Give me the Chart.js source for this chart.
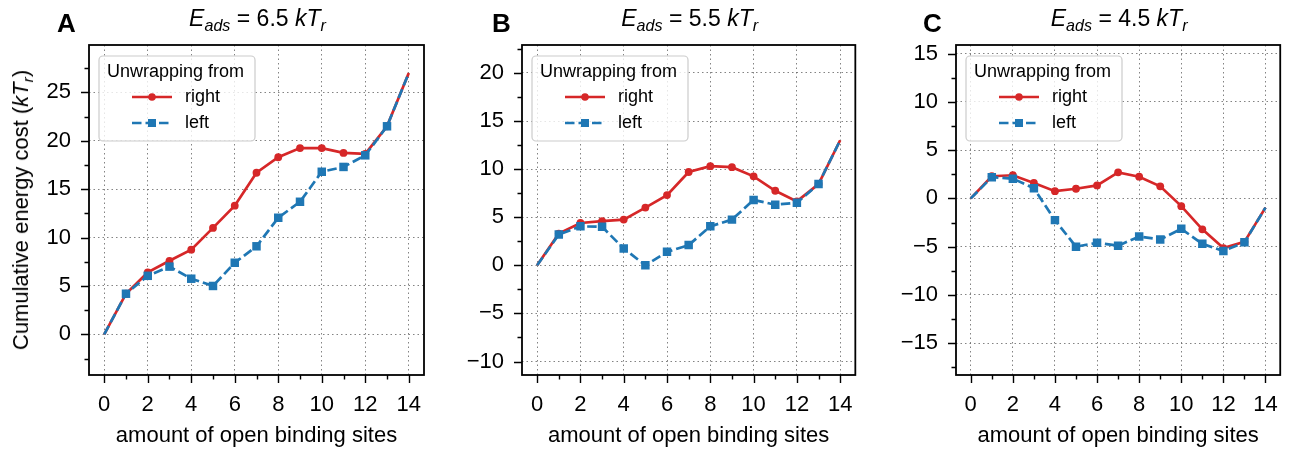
<!DOCTYPE html>
<html>
<head>
<meta charset="utf-8">
<script src="https://cdn.jsdelivr.net/npm/chart.js@4.4.0/dist/chart.umd.min.js"></script>
<style>
  body { margin: 0; width: 1295px; height: 450px; background: #fff; position: relative; overflow: hidden;
         font-family: 'Liberation Sans', Arial, sans-serif; color: #000; }
  canvas { position: absolute; top: 0; }
  .ttl { position: absolute; top: 7px; font-size: 23px; line-height: 23px; white-space: nowrap; transform: translateX(-50%); z-index: 2; }
  .letter { position: absolute; top: 10px; font-size: 26px; line-height: 26px; font-weight: bold; z-index: 2; }
  .ylab { position: absolute; left: 21px; top: 210px; font-size: 22px; line-height: 22px; white-space: nowrap;
          transform: translate(-50%, -50%) rotate(-90deg); z-index: 2; }
  sub { font-size: 70%; vertical-align: -0.3em; line-height: 0; }
</style>
</head>
<body>
<canvas id="cA" width="440" height="450" style="left:0px"></canvas>
<canvas id="cB" width="430" height="450" style="left:440px"></canvas>
<canvas id="cC" width="425" height="450" style="left:870px"></canvas>

<div class="letter" style="left:57px">A</div>
<div class="letter" style="left:492px">B</div>
<div class="letter" style="left:923px">C</div>
<div class="ttl" id="tA"></div>
<div class="ttl" id="tB"></div>
<div class="ttl" id="tC"></div>
<div class="ylab">Cumulative energy cost (<i>kT</i><sub><i>r</i></sub>)</div>

<script>
/* ── data ─────────────────────────────────────────────── */
const sites  = [0, 1, 2, 3, 4, 5, 6, 7, 8, 9, 10, 11, 12, 13, 14];
const energies = ['6.5', '5.5', '4.5'];

const rightA = [0, 4.2, 6.4, 7.6, 8.75, 11.0, 13.3, 16.7, 18.3, 19.25, 19.25, 18.75, 18.65, 21.5, 27.0];
const leftA  = [0, 4.2, 6.05, 7.0, 5.75, 5.0, 7.4, 9.1, 12.05, 13.7, 16.8, 17.3, 18.5, 21.5, 27.0];
const rightB = [0, 3.3, 4.4, 4.6, 4.75, 6.0, 7.3, 9.7, 10.3, 10.2, 9.25, 7.75, 6.65, 8.45, 13.0];
const leftB  = [0, 3.2, 4.05, 4.0, 1.75, 0.0, 1.4, 2.1, 4.05, 4.75, 6.8, 6.3, 6.5, 8.45, 13.0];
const rightC = [0, 2.3, 2.4, 1.6, 0.75, 1.0, 1.35, 2.7, 2.25, 1.25, -0.8, -3.2, -5.15, -4.5, -0.95];
const leftC  = [0, 2.2, 2.05, 1.05, -2.25, -5.0, -4.6, -4.9, -3.95, -4.25, -3.15, -4.7, -5.45, -4.55, -0.95];

const xMajor = [0, 2, 4, 6, 8, 10, 12, 14];
const xMinor = [1, 3, 5, 7, 9, 11, 13];

const yMajorA = [0, 5, 10, 15, 20, 25];
const yMinorA = [-2.5, 2.5, 7.5, 12.5, 17.5, 22.5, 27.5];
const yMajorB = [-10, -5, 0, 5, 10, 15, 20];
const yMinorB = [-7.5, -2.5, 2.5, 7.5, 12.5, 17.5, 22.5];
const yMajorC = [-15, -10, -5, 0, 5, 10, 15];
const yMinorC = [-17.5, -12.5, -7.5, -2.5, 2.5, 7.5, 12.5];

const yRangeA = [-4.2, 29.9];
const yRangeB = [-11.4, 22.9];
const yRangeC = [-18.3, 15.9];

const RED  = '#d62728';
const BLUE = '#1f77b4';
const GRID = 'rgba(90,90,90,0.75)';
const FONT = "'Liberation Sans', Arial, sans-serif";

Chart.defaults.font.family = FONT;
Chart.defaults.color = '#000';

const fmt = v => v < 0 ? '\u2212' + Math.abs(v) : String(v);

// no marker on the first and last point of each curve
const innerOnly = r => ctx => (ctx.dataIndex === 0 || ctx.dataIndex === sites.length - 1) ? 0 : r;

/* ── frame plugin: spines, outward tick marks, legend ─── */
const framePlugin = {
  id: 'frame',
  afterDraw(chart, args, o) {
    const { ctx, chartArea: a, scales: { x, y } } = chart;
    ctx.save();
    ctx.strokeStyle = '#000';
    ctx.lineWidth = 1.4;
    ctx.setLineDash([]);
    ctx.beginPath();
    const xt = (v, len) => { const p = Math.round(x.getPixelForValue(v)) + 0.5; ctx.moveTo(p, a.bottom); ctx.lineTo(p, a.bottom + len); };
    const yt = (v, len) => { const p = Math.round(y.getPixelForValue(v)) + 0.5; ctx.moveTo(a.left, p); ctx.lineTo(a.left - len, p); };
    xMajor.forEach(v => xt(v, 8));
    xMinor.forEach(v => xt(v, 4.5));
    o.yMajor.forEach(v => yt(v, 8));
    o.yMinor.forEach(v => yt(v, 4.5));
    ctx.stroke();

    ctx.lineWidth = 1.8;
    ctx.strokeRect(a.left, a.top, a.right - a.left, a.bottom - a.top);

    // legend box
    const lx = a.left + 10, ly = a.top + 11, lw = 156, lh = 85;
    ctx.beginPath();
    ctx.roundRect(lx, ly, lw, lh, 4);
    ctx.fillStyle = 'rgba(255,255,255,0.8)';
    ctx.fill();
    ctx.strokeStyle = '#cccccc';
    ctx.lineWidth = 1.2;
    ctx.stroke();

    ctx.fillStyle = '#000';
    ctx.font = '18px ' + FONT;
    ctx.textBaseline = 'middle';
    ctx.textAlign = 'left';
    ctx.fillText('Unwrapping from', a.left + 18, a.top + 27);

    const ds = chart.data.datasets;
    const rows = [ds[1], ds[0]];   // right first, then left
    rows.forEach((d, i) => {
      const yy = a.top + 52 + i * 26;
      ctx.strokeStyle = d.borderColor;
      ctx.lineWidth = d.borderWidth;
      ctx.setLineDash(d.borderDash || []);
      ctx.beginPath();
      ctx.moveTo(a.left + 43, yy);
      ctx.lineTo(a.left + 83, yy);
      ctx.stroke();
      ctx.setLineDash([]);
      ctx.fillStyle = d.borderColor;
      if (d.pointStyle === 'rect') {
        ctx.fillRect(a.left + 63 - 4, yy - 4, 8, 8);
      } else {
        ctx.beginPath();
        ctx.arc(a.left + 63, yy, 3.8, 0, Math.PI * 2);
        ctx.fill();
      }
      ctx.fillStyle = '#000';
      ctx.fillText(d.label, a.left + 96, yy);
    });
    ctx.restore();
  }
};

/* ── one panel ────────────────────────────────────────── */
function makePanel(id, right, left, yRange, yMajor, yMinor, yWidth, padRight) {
  const pts = arr => sites.map((s, i) => ({ x: s, y: arr[i] }));
  return new Chart(document.getElementById(id).getContext('2d'), {
    type: 'line',
    data: {
      datasets: [
        {
          label: 'left', data: pts(left), order: 1,
          borderColor: BLUE, backgroundColor: BLUE, borderWidth: 2.7, borderDash: [9.5, 4],
          pointStyle: 'rect', pointRadius: innerOnly(6), pointBorderWidth: 0, pointBackgroundColor: BLUE,
          tension: 0, fill: false
        },
        {
          label: 'right', data: pts(right), order: 2,
          borderColor: RED, backgroundColor: RED, borderWidth: 2.7,
          pointStyle: 'circle', pointRadius: innerOnly(3.9), pointBorderWidth: 0, pointBackgroundColor: RED,
          tension: 0, fill: false
        }
      ]
    },
    options: {
      responsive: false,
      animation: false,
      events: [],
      layout: { padding: { top: 45, right: padRight, left: 0, bottom: 0 } },
      plugins: {
        legend: { display: false },
        tooltip: { enabled: false },
        frame: { yMajor, yMinor }
      },
      scales: {
        x: {
          type: 'linear', min: -0.7, max: 14.7,
          afterBuildTicks: ax => { ax.ticks = xMajor.map(v => ({ value: v })); },
          afterFit: ax => { ax.height = 75; },
          grid: { color: GRID, lineWidth: 1, drawTicks: false },
          border: { display: false, dash: [1.5, 3] },
          ticks: { callback: v => fmt(v), padding: 17, font: { size: 22 }, maxRotation: 0, autoSkip: false },
          title: { display: true, text: 'amount of open binding sites', font: { size: 22 }, padding: { top: 0, bottom: 1 } }
        },
        y: {
          type: 'linear', min: yRange[0], max: yRange[1],
          afterBuildTicks: ax => { ax.ticks = yMajor.map(v => ({ value: v })); },
          afterFit: ax => { ax.width = yWidth; },
          grid: { color: GRID, lineWidth: 1, drawTicks: false },
          border: { display: false, dash: [1.5, 3] },
          ticks: { callback: v => fmt(v), padding: 18, font: { size: 22 }, autoSkip: false }
        }
      }
    },
    plugins: [framePlugin]
  });
}

const charts = [
  makePanel('cA', rightA, leftA, yRangeA, yMajorA, yMinorA, 89, 16),
  makePanel('cB', rightB, leftB, yRangeB, yMajorB, yMinorB, 82, 13),
  makePanel('cC', rightC, leftC, yRangeC, yMajorC, yMinorC, 86, 6)
];

/* ── titles centred over each plot area ───────────────── */
const offsets = [0, 440, 870];
['tA', 'tB', 'tC'].forEach((tid, i) => {
  const a = charts[i].chartArea;
  const el = document.getElementById(tid);
  el.innerHTML = '<i>E</i><sub><i>ads</i></sub> = ' + energies[i] + ' <i>kT</i><sub><i>r</i></sub>';
  el.style.left = (offsets[i] + (a.left + a.right) / 2 + 1) + 'px';
});
</script>
</body>
</html>
